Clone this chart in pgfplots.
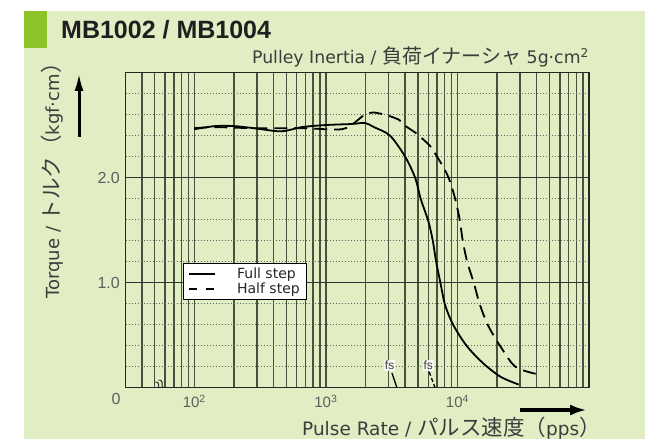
\documentclass[border=0pt]{standalone}
\usepackage{pgfplots}
\pgfplotsset{compat=1.18}
\usetikzlibrary{arrows.meta}
\usepackage{fontspec}
\setmainfont{DejaVu Sans}
\newfontfamily\lib{Liberation Sans}
\newfontfamily\jp{Noto Sans CJK JP}
\definecolor{bg}{RGB}{225,237,195}
\definecolor{accent}{RGB}{140,195,40}
\definecolor{gridc}{RGB}{72,80,62}
\definecolor{txt}{RGB}{60,60,60}
\definecolor{tickc}{RGB}{95,95,95}
\newcommand{\J}[1]{{\jp\fontsize{20}{20}\selectfont #1}}
\newcommand{\JL}[1]{{\jp\fontsize{21.5}{21.5}\selectfont #1}}
\begin{document}
\begin{tikzpicture}[x=1pt,y=1pt]
\useasboundingbox (0,0) rectangle (645,439);
\clip (0,0) rectangle (645,439);
\fill[white] (0,0) rectangle (645,439);
\fill[bg] (24,0) rectangle (645,428);
\fill[accent] (24,390.7) rectangle (47.3,428);
\node[anchor=base west, inner sep=0, font=\lib\fontsize{25}{25}\selectfont\bfseries, text=black!88] at (61,400.7) {MB1002 / MB1004};
\node[anchor=base east, inner sep=0, font=\fontsize{17.3}{17.3}\selectfont, text=txt] at (589,375.7) {Pulley Inertia / \J{負荷イナーシャ} 5g·cm\textsuperscript{2}};
\node[anchor=center, rotate=90, inner sep=0, font=\fontsize{18}{18}\selectfont, text=txt] at (51.7,263.5) {Torque / \JL{トルク（}kgf·cm\JL{）}};
\node[anchor=base east, inner sep=0, font=\fontsize{18.5}{18.5}\selectfont, text=txt] at (601,3.5) {Pulse Rate / \JL{パルス速度（}pps\JL{）}};
\node[anchor=center, inner sep=0, font=\lib\fontsize{16}{16}\selectfont, text=tickc] at (116,40) {0};
\draw[line width=3pt, -{Latex[length=18pt,width=9pt]}] (79,302) -- (79,366);
\draw[line width=4pt, -{Latex[length=17pt,width=11pt]}] (520,29) -- (587,29);

\begin{axis}[
  at={(125.5pt,51.3pt)}, anchor=south west,
  width=463.5pt, height=315.2pt, scale only axis,
  xmode=log, xmin=30, xmax=100000, ymin=0, ymax=3,
  xtick={100,1000,10000},
  xticklabels={10\textsuperscript{2},10\textsuperscript{3},10\textsuperscript{4}},
  minor xtick={40,50,60,70,80,90,200,300,400,500,600,700,800,900,2000,3000,4000,5000,6000,7000,8000,9000,20000,30000,40000,50000,60000,70000,80000,90000},
  ytick={1,2}, yticklabels={1.0,2.0},
  minor ytick={0.2,0.4,0.6,0.8,1.2,1.4,1.6,1.8,2.2,2.4,2.6,2.8},
  grid=both,
  major x grid style={gridc, line width=1.5pt},
  minor x grid style={gridc, line width=1.5pt},
  major y grid style={black!80, line width=1.1pt},
  minor y grid style={black!60, line width=0.8pt, dash pattern=on 1.3pt off 1.7pt},
  axis line style={black!85, line width=1.1pt},
  major tick length=0pt, minor tick length=0pt,
  xticklabel style={anchor=center, yshift=-14pt, font=\lib\fontsize{15}{15}\selectfont, text=tickc},
  yticklabel style={anchor=east, inner sep=0pt, xshift=-5.5pt, font=\lib\fontsize{16}{16}\selectfont, text=tickc},
  legend image code/.code={\draw[#1, line width=1.9pt] (0pt,0pt) -- (26pt,0pt);},
  legend style={at={(0.1234,0.3947)}, anchor=north west, draw=black, line width=1pt, fill=white,
    font=\fontsize{14}{14}\selectfont, text=black!85, inner xsep=5pt, inner ysep=2.5pt, row sep=-1.5pt,
    cells={anchor=west}, /tikz/every odd column/.append style={column sep=19pt}},
]
\addplot[black, line width=1.8pt, smooth, tension=0.5, forget plot] coordinates {
(100,2.46)(144,2.49)(200,2.49)(284,2.47)(458,2.44)(653,2.48)(1000,2.50)(1578,2.51)(1982,2.52)(2320,2.48)(3069,2.40)(3999,2.20)(4764,2.00)(5250,1.80)(5700,1.67)(6056,1.57)(6496,1.40)(6886,1.20)(7420,1.00)(7690,0.90)(8000,0.80)(8530,0.70)(9270,0.60)(10330,0.50)(11720,0.40)(13800,0.30)(16790,0.20)(21530,0.10)(29200,0.03)
};
\addplot[black, line width=1.8pt, smooth, tension=0.5, dash pattern=on 13pt off 7pt, forget plot] coordinates {
(100,2.47)(144,2.48)(284,2.47)(653,2.47)(1000,2.46)(1324,2.46)(1524,2.49)(1721,2.54)(1982,2.60)(2300,2.62)(2537,2.61)(2815,2.60)(3596,2.55)(3928,2.50)(4763,2.43)(5200,2.39)(6200,2.30)(6761,2.23)(8054,2.07)(8790,1.96)(9600,1.80)(10400,1.60)(10970,1.40)(11850,1.20)(13300,1.00)(14730,0.80)(16980,0.60)(21040,0.40)(27560,0.20)(40000,0.13)
};
\addplot[black, line width=1.3pt, smooth, forget plot] coordinates {(3180,0.14)(3300,0.08)(3470,0.0)};
\addplot[black, line width=1.3pt, smooth, dash pattern=on 4pt off 2.5pt, forget plot] coordinates {(6100,0.15)(6400,0.08)(6760,0.0)};
\node[fill=white, fill opacity=0.85, text opacity=1, inner sep=0.8pt, font=\lib\fontsize{12}{12}\selectfont, text=black!75] at (axis cs:3050,0.21) {fs};
\node[fill=white, fill opacity=0.85, text opacity=1, inner sep=0.8pt, font=\lib\fontsize{12}{12}\selectfont, text=black!75] at (axis cs:6000,0.21) {fs};
\node[rotate=-60, inner sep=0, font=\fontsize{19}{19}\selectfont, text=black] at (axis cs:55,0.01) {$\approx$};
\addlegendimage{black, solid}
\addlegendentry{Full step}
\addlegendimage{black, dash pattern=on 8pt off 8.5pt}
\addlegendentry{Half step}
\end{axis}
\end{tikzpicture}
\end{document}
